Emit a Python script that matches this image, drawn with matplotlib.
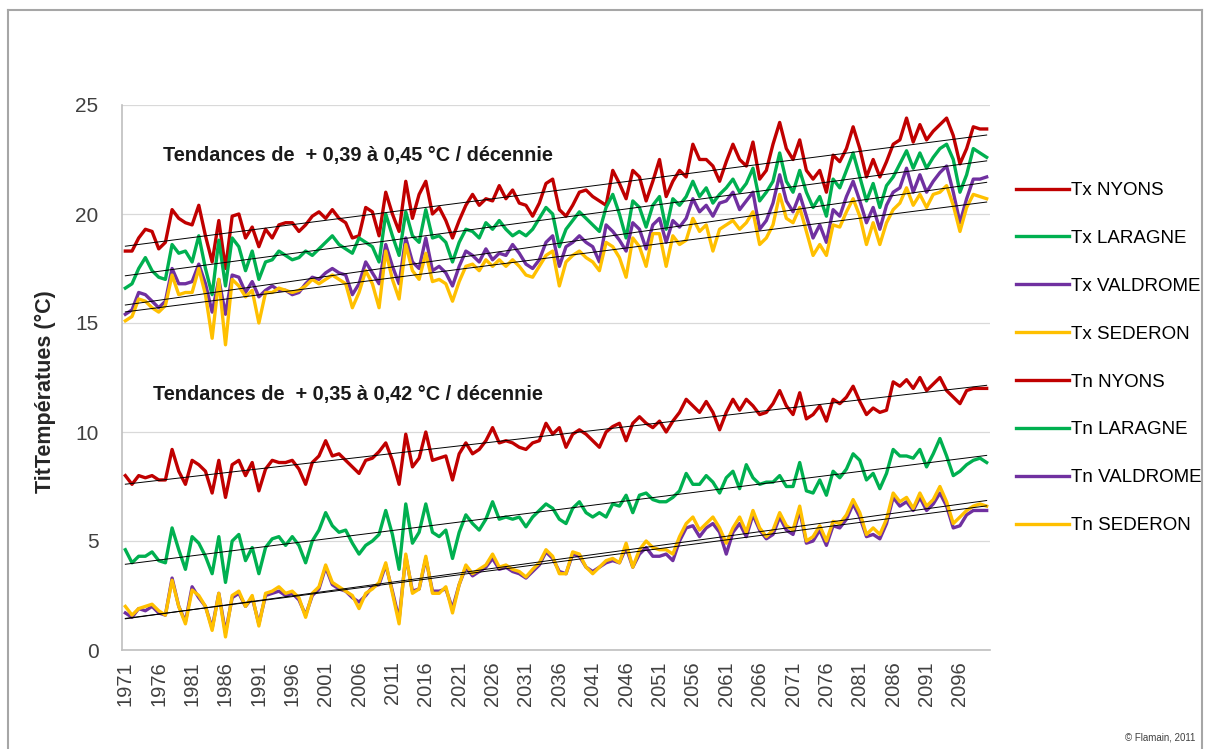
import matplotlib
matplotlib.use("Agg")
from matplotlib import pyplot as plt
import numpy as np

years = np.arange(1971, 2101)

tx_nyons = [18.3, 18.3, 18.9, 19.3, 19.2, 18.4, 18.7, 20.2, 19.8, 19.6, 19.5, 20.4, 19.0, 17.8, 19.7, 17.5,
            19.9, 20.0, 18.9, 19.4, 18.5, 19.3, 18.9, 19.5, 19.6, 19.6, 19.2, 19.5, 19.9, 20.1, 19.8,
            20.2, 19.8, 19.6, 18.9, 19.0, 20.3, 20.1, 19.0, 21.0, 20.0, 19.2, 21.5, 19.8, 20.9, 21.5, 20.0,
            20.3, 19.7, 18.9, 19.7, 20.4, 20.9, 20.4, 20.7, 20.6, 21.3, 20.7, 21.1, 20.5, 20.4, 19.9, 20.5,
            21.4, 21.6,
            20.2, 19.9, 20.4, 21.0, 21.1, 20.8, 20.6, 20.4, 22.0, 21.4, 20.7, 22.0, 21.7, 20.6, 21.5, 22.5,
            20.8, 21.5, 22.0, 21.7, 23.2, 22.5, 22.5, 22.2, 21.5, 22.4, 23.2, 22.5, 22.2, 23.3, 21.6, 22.0,
            23.2, 24.2, 23.0, 22.5, 23.4, 22.0, 21.6, 22.0, 21.0, 22.7, 22.4, 23.0, 24.0, 23.0, 21.7, 22.5,
            21.7, 22.4, 23.2, 23.4, 24.4, 23.3, 24.1, 23.4, 23.8, 24.1, 24.4, 23.6, 22.3, 23.0, 24.0, 23.9,
            23.9]
tx_laragne = [16.6, 16.8, 17.5, 18.0, 17.4, 17.1, 17.0, 18.6, 18.2, 18.3, 17.8, 19.0, 17.5, 16.3, 18.8, 16.7,
              18.9, 18.5, 17.4, 18.3, 17.0, 17.8, 17.9, 18.3, 18.1, 17.9, 18.0, 18.3, 18.1, 18.4, 18.7,
              19.0, 18.6, 18.4, 18.2, 18.9, 18.7, 18.5, 17.8, 20.0, 19.0, 18.1, 20.1, 19.0, 18.7, 20.2, 18.9,
              19.0, 18.7, 17.8, 18.7, 19.3, 19.2, 18.9, 19.6, 19.3, 19.7, 19.3, 19.0, 19.2, 19.0, 19.3, 19.8,
              20.3, 20.0,
              18.5, 19.3, 19.7, 20.1, 19.8, 19.5, 19.2, 20.3, 20.9, 20.0, 18.9, 20.6, 20.3, 19.4, 20.4, 20.8,
              19.3, 20.7, 20.4, 20.8, 21.5, 20.8, 21.2, 20.5, 20.9, 21.2, 21.6, 21.0, 21.4, 22.1, 20.6, 21.0,
              21.5, 22.8, 21.5, 21.0, 22.0, 21.0, 20.3, 20.8, 19.9, 21.6, 21.2, 22.0, 22.8, 21.7, 20.6, 21.4,
              20.3, 21.3, 21.7, 22.3, 22.9, 22.1, 22.8, 22.1, 22.6, 23.0, 23.2, 22.5, 21.0, 21.8, 23.0, 22.8,
              22.6]
tx_valdrome = [15.4, 15.6, 16.4, 16.3, 16.0, 15.7, 16.0, 17.5, 16.8, 16.8, 16.9, 17.7, 16.8, 15.5, 17.0, 15.4,
               17.2, 17.1, 16.4, 16.9, 16.2, 16.5, 16.7, 16.5, 16.5, 16.3, 16.4, 16.8, 17.1, 17.0, 17.3,
               17.5, 17.3, 17.2, 16.3, 16.8, 17.8, 17.3, 16.8, 18.6, 17.6, 16.8, 18.9, 17.8, 17.5, 18.9, 17.4,
               17.6, 17.3, 16.7, 17.6, 18.3, 18.1, 17.8, 18.4, 17.9, 18.2, 18.1, 18.6, 18.2, 17.7, 17.5, 17.9,
               18.7, 19.0,
               17.6, 18.5, 18.7, 19.0, 18.7, 18.5, 17.8, 19.5, 19.2, 18.8, 18.3, 19.6, 19.3, 18.4, 19.5, 19.8,
               18.7, 19.7, 19.4, 19.8, 20.7, 20.1, 20.4, 19.9, 20.5, 20.6, 21.0, 20.2, 20.6, 21.0, 19.3, 19.7,
               20.5, 21.8, 20.6, 20.1, 20.9, 19.9, 18.9, 19.5, 18.7, 20.2, 19.9, 20.8, 21.5, 20.6, 19.6, 20.3,
               19.3, 20.4, 21.0, 21.2, 22.1, 21.0, 21.8, 21.0, 21.5, 21.9, 22.2, 21.0, 19.6, 20.7, 21.6, 21.6,
               21.7]
tx_sederon = [15.1, 15.3, 16.1, 16.0, 15.7, 15.5, 15.8, 17.2, 16.3, 16.4, 16.4, 17.5, 16.3, 14.3, 17.0, 14.0,
              17.0, 16.7, 16.2, 16.5, 15.0, 16.4, 16.4, 16.6, 16.5, 16.4, 16.5, 16.7, 17.0, 16.8, 17.0,
              17.2, 17.0, 16.8, 15.7, 16.4, 17.4, 16.8, 15.7, 18.3, 17.0, 16.1, 18.6, 17.4, 17.0, 18.2, 16.9,
              17.0, 16.8, 16.0, 16.9, 17.6, 17.7, 17.4, 17.9, 17.6, 17.9, 17.6, 17.9, 17.6, 17.2, 17.1, 17.6,
              18.1, 18.3,
              16.7, 17.8, 18.1, 18.3, 18.0, 17.8, 17.4, 18.7, 18.5, 18.0, 17.1, 18.9, 18.5, 17.6, 19.1, 19.1,
              17.6, 19.0, 18.6, 18.8, 19.8, 19.2, 19.5, 18.3, 19.3, 19.5, 19.7, 19.3, 19.6, 20.1, 18.6, 18.9,
              19.5, 20.9, 19.8, 19.6, 20.3, 19.2, 18.1, 18.6, 18.1, 19.5, 19.4, 20.1, 20.7, 19.9, 18.6, 19.6,
              18.6, 19.6, 20.2, 20.5, 21.2, 20.4, 20.9, 20.3, 20.9, 21.0, 21.3, 20.4, 19.2, 20.3, 20.9, 20.8,
              20.7]
tn_nyons = [8.0, 7.6, 8.0, 7.9, 8.0, 7.8, 7.8, 9.2, 8.2, 7.6, 8.7, 8.5, 8.2, 7.2, 8.7, 7.0,
            8.5, 8.7, 8.0, 8.6, 7.3, 8.3, 8.7, 8.6, 8.6, 8.7, 8.3, 7.6, 8.6, 8.9, 9.6,
            8.9, 9.0, 8.7, 8.4, 8.1, 8.7, 8.8, 9.1, 9.5, 8.7, 7.6, 9.9, 8.4, 8.8, 10.0, 8.7,
            8.8, 8.9, 7.8, 9.0, 9.5, 9.0, 9.2, 9.6, 10.2, 9.5, 9.6, 9.5, 9.3, 9.2, 9.5, 9.6,
            10.4, 9.9,
            10.2, 9.3, 9.9, 10.1, 9.9, 9.6, 9.3, 10.0, 10.25, 10.4, 9.6, 10.4, 10.7, 10.4, 10.2, 10.5,
            10.0, 10.5, 10.9, 11.5, 11.2, 10.9, 11.4, 10.9, 10.1, 10.9, 11.5, 11.0, 11.5, 11.2, 10.8, 10.9,
            11.3, 11.9, 11.2, 10.8, 11.8, 10.6, 10.8, 11.2, 10.5, 11.5, 11.3, 11.6, 12.1, 11.4, 10.8, 11.1,
            10.9, 11.0, 12.3, 12.1, 12.4, 12.0, 12.5, 11.9, 12.2, 12.5, 11.9, 11.6, 11.3, 11.9, 12.0, 12.0,
            12.0]
tn_laragne = [4.6, 4.0, 4.3, 4.3, 4.5, 4.1, 4.0, 5.6, 4.6, 3.7, 5.2, 4.9, 4.3, 3.5, 5.2, 3.1,
              5.0, 5.3, 4.1, 4.7, 3.5, 4.7, 5.1, 5.2, 4.8, 5.2, 4.8, 4.0, 5.0, 5.5, 6.3,
              5.7, 5.4, 5.5, 4.9, 4.4, 4.8, 5.0, 5.3, 6.4, 5.3, 3.7, 6.7, 4.9, 5.4, 6.7, 5.4,
              5.2, 5.5, 4.2, 5.4, 6.2, 5.8, 5.5, 6.0, 6.8, 6.0, 6.1, 6.0, 6.1, 5.65, 6.1, 6.4,
              6.7, 6.5,
              6.0, 5.8, 6.5, 6.8, 6.3, 6.1, 6.3, 6.1, 6.7, 6.6, 7.1, 6.3, 7.1, 7.2, 6.9, 6.8,
              6.8, 7.0, 7.3, 8.1, 7.6, 7.6, 8.0, 7.7, 7.2, 7.9, 8.2, 7.4, 8.5, 7.9, 7.6, 7.7,
              7.7, 8.0, 7.5, 7.5, 8.6, 7.3, 7.2, 7.8, 7.1, 8.2, 7.9, 8.3, 9.0, 8.7, 7.8, 8.1,
              7.4, 8.1, 9.2, 8.9, 8.9, 8.8, 9.2, 8.4, 9.0, 9.7, 8.9, 8.0, 8.2, 8.5, 8.7, 8.8,
              8.6]
tn_valdrome = [1.7, 1.5, 1.9, 1.8, 2.0, 1.7, 1.6, 3.3, 2.0, 1.3, 2.9, 2.4, 2.0, 1.0, 2.6, 0.8,
               2.4, 2.6, 2.0, 2.4, 1.2, 2.5, 2.6, 2.7, 2.5, 2.6, 2.3, 1.6, 2.5, 2.8, 3.8,
               3.0, 2.8, 2.7, 2.4, 2.2, 2.5, 2.9, 3.0, 3.9, 2.7, 1.4, 4.3, 2.7, 2.8, 4.2, 2.7,
               2.7, 2.8, 1.9, 3.0, 3.8, 3.4, 3.6, 3.8, 4.2, 3.7, 3.8, 3.6, 3.5, 3.3, 3.6, 3.9,
               4.5, 4.2,
               3.6, 3.5, 4.4, 4.3, 3.8, 3.6, 3.8, 4.0, 4.1, 4.0, 4.7, 3.8, 4.4, 4.7, 4.3, 4.3,
               4.4, 4.1, 5.0, 5.6, 5.7, 5.2, 5.6, 5.8, 5.4, 4.4, 5.4, 5.8, 5.2, 6.2, 5.5, 5.1,
               5.3, 6.1, 5.5, 5.3, 6.4, 4.9, 5.0, 5.5, 4.8, 5.7, 5.6, 6.0, 6.7, 6.1, 5.2, 5.3,
               5.1, 5.8, 7.0, 6.6, 6.8, 6.4, 7.0, 6.4, 6.7, 7.2, 6.6, 5.6, 5.7, 6.2, 6.4, 6.4,
               6.4]
tn_sederon = [2.0, 1.6, 1.9, 2.0, 2.1, 1.8, 1.6, 3.2, 2.0, 1.2, 2.75, 2.5, 2.0, 0.9, 2.6, 0.6,
              2.5, 2.7, 2.0, 2.5, 1.1, 2.6, 2.7, 2.9, 2.6, 2.7, 2.4, 1.5, 2.6, 2.9, 3.9,
              3.1, 2.9, 2.7, 2.5, 1.9, 2.6, 2.8, 3.1, 4.0, 2.6, 1.2, 4.4, 2.6, 2.8, 4.3, 2.6,
              2.6, 2.9, 1.7, 3.0, 3.9, 3.5, 3.7, 3.9, 4.4, 3.8, 3.9, 3.7, 3.6, 3.35, 3.7, 4.0,
              4.6, 4.3,
              3.5, 3.5, 4.5, 4.4, 3.8, 3.5, 3.8, 4.1, 4.2, 4.0, 4.9, 3.8, 4.6, 5.0, 4.7, 4.6,
              4.6, 4.4, 5.2, 5.8, 6.1, 5.5, 5.8, 6.1, 5.6, 4.9, 5.6, 6.1, 5.4, 6.4, 5.6, 5.2,
              5.5, 6.3, 5.7, 5.5, 6.6, 5.0, 5.2, 5.7, 5.0, 5.9, 5.8, 6.2, 6.9, 6.3, 5.3, 5.6,
              5.3, 6.0, 7.2, 6.8, 7.0, 6.5, 7.2, 6.6, 6.9, 7.5, 6.8, 5.8, 6.1, 6.4, 6.6, 6.7,
              6.6]

labels = ["Tx NYONS", "Tx LARAGNE", "Tx VALDROME", "Tx SEDERON",
          "Tn NYONS", "Tn LARAGNE", "Tn VALDROME", "Tn SEDERON"]
values = [tx_nyons, tx_laragne, tx_valdrome, tx_sederon,
          tn_nyons, tn_laragne, tn_valdrome, tn_sederon]
colors = ["#C00000", "#00B050", "#7030A0", "#FFC000"] * 2

plt.rcParams['font.family'] = ['Liberation Sans', 'DejaVu Sans']

fig = plt.figure(figsize=(12.06, 7.49), dpi=100)
ax = fig.add_axes([122 / 1206, 99 / 749, 868 / 1206, 545 / 749])

for label, vals, color in zip(labels, values, colors):
    ax.plot(years, vals, color=color, lw=2.4, label=label, solid_joinstyle='round', zorder=2)

# linear trends
for vals in values:
    coef = np.polyfit(years, vals, 1)
    ax.plot(years, np.polyval(coef, years), color='black', lw=0.7, zorder=3)

ax.set_xlim(1970.5, 2100.5)
ax.set_ylim(0, 25)
ax.set_yticks(range(0, 26, 5))
ax.set_xticks(years[::5])
ax.set_xticklabels([str(y) for y in years[::5]], rotation=90, fontsize=14.5)
ax.tick_params(axis='y', length=0, pad=17, labelsize=15, colors='#404040')
ax.tick_params(axis='x', length=0, pad=8, colors='#404040')
ax.grid(axis='y', color='#D9D9D9', lw=0.9)
ax.set_axisbelow(True)
for side in ['top', 'right']:
    ax.spines[side].set_visible(False)
for side in ['left', 'bottom']:
    ax.spines[side].set_color('#BFBFBF')
    ax.spines[side].set_linewidth(1.2)

ax.text(1976.7, 22.7, "Tendances de  + 0,39 à 0,45 °C / décennie",
        fontsize=14.3, fontweight='bold', va='center', ha='left', color='#1a1a1a')
ax.text(1975.2, 11.7, "Tendances de  + 0,35 à 0,42 °C / décennie",
        fontsize=14.3, fontweight='bold', va='center', ha='left', color='#1a1a1a')

fig.text(45 / 1206, 1 - 392 / 749, "TitTempératues (°C)", rotation=90,
         fontsize=15.5, fontweight='bold', ha='center', va='center', color='#262626')

ax.legend(loc='upper left', bbox_to_anchor=(1016 / 1206, 1 - 182 / 749),
          bbox_transform=fig.transFigure, frameon=False, fontsize=13.5,
          handlelength=2.8, handletextpad=0.15, labelspacing=1.64,
          borderpad=0, borderaxespad=0)

fig.text(1160 / 1206, 1 - 737 / 749, "© Flamain, 2011", fontsize=7,
         ha='center', va='center', color='#404040')

# outer chart border
border = dict(color='#A6A6A6', lw=1.5, transform=fig.transFigure)
fig.add_artist(plt.Line2D([8 / 1206, 8 / 1206], [0, 1 - 10 / 749], **border))
fig.add_artist(plt.Line2D([8 / 1206, 1202 / 1206], [1 - 10 / 749, 1 - 10 / 749], **border))
fig.add_artist(plt.Line2D([1202 / 1206, 1202 / 1206], [0, 1 - 10 / 749], **border))

fig.savefig("out.png", dpi=100)
